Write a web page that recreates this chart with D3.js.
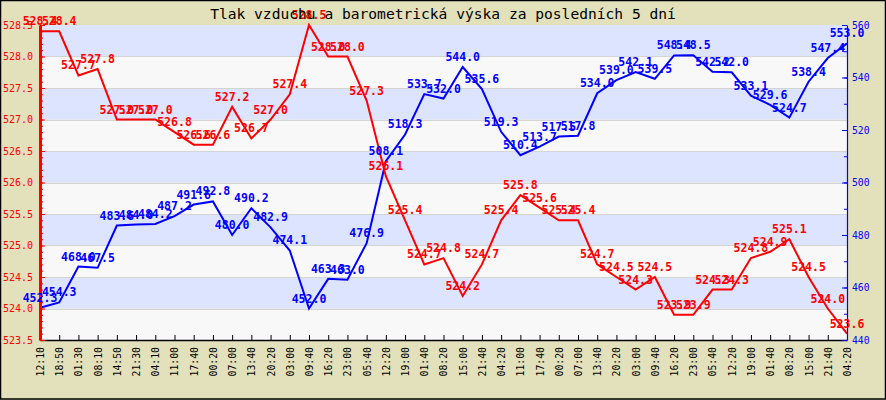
<!DOCTYPE html>
<html>
<head>
<meta charset="utf-8">
<script src="https://cdn.jsdelivr.net/npm/d3@7"></script>
<style>
html,body{margin:0;padding:0;background:#fff;}
svg{display:block;}
</style>
</head>
<body>
<svg id="chart" width="886" height="400"></svg>
<script>
const titleText = "Tlak vzduchu a barometrická výska za posledních 5 dní";
const xLabels = ["12:10","18:50","01:30","08:10","14:50","21:30","04:10","11:00","17:40","00:20","07:00","13:40","20:20","03:00","09:40","16:20","23:00","05:40","12:20","19:00","01:40","08:20","15:00","21:40","04:20","11:00","17:40","00:20","07:00","13:40","20:20","03:00","09:40","16:20","23:00","05:40","12:20","19:00","01:40","08:20","15:00","21:40","04:20"];
const pressure = [528.4,528.4,527.7,527.8,527.0,527.0,527.0,526.8,526.6,526.6,527.2,526.7,527.0,527.4,528.5,528.0,528.0,527.3,526.1,525.4,524.7,524.8,524.2,524.7,525.4,525.8,525.6,525.4,525.4,524.7,524.5,524.3,524.5,523.9,523.9,524.3,524.3,524.8,524.9,525.1,524.5,524.0,523.6];
const altitude = [452.3,454.3,468.0,467.5,483.6,484.0,484.2,487.2,491.6,492.8,480.0,490.2,482.9,474.1,452.0,463.3,463.0,476.9,508.1,518.3,533.7,532.0,544.0,535.6,519.3,510.4,513.7,517.5,517.8,534.0,539.0,542.1,539.5,548.4,548.5,542.2,542.0,533.1,529.6,524.7,538.4,547.4,553.0];
const leftTicks = [523.5,524.0,524.5,525.0,525.5,526.0,526.5,527.0,527.5,528.0,528.5];
const rightTicks = [440,460,480,500,520,540,560];

const W = 886, H = 400;
const L = 40, R = 847, T = 25, B = 340;
const mono = "'DejaVu Sans Mono', 'Liberation Mono', monospace";
const beige = "#e3e0bc";

const svg = d3.select("#chart");
const x = d3.scalePoint().domain(d3.range(xLabels.length)).range([L, R]);
const yL = d3.scaleLinear().domain([523.5, 528.5]).range([B, T]);
const yR = d3.scaleLinear().domain([440, 560]).range([B, T]);

// background
svg.append("rect").attr("x",0).attr("y",0).attr("width",W).attr("height",H).attr("fill",beige);

// bands
const bands = leftTicks.slice(0, -1);
svg.append("g").selectAll("rect").data(bands).join("rect")
  .attr("x", L).attr("width", R - L)
  .attr("y", d => yL(d + 0.5)).attr("height", d => yL(d) - yL(d + 0.5))
  .attr("fill", (d, i) => i % 2 === 1 ? "#dde4ff" : "#f8f8f8");

// grid
svg.append("g").selectAll("line").data(leftTicks.slice(1, -1)).join("line")
  .attr("x1", L).attr("x2", R)
  .attr("y1", d => Math.round(yL(d)) + 0.5).attr("y2", d => Math.round(yL(d)) + 0.5)
  .attr("stroke", "#d4d4d4").attr("stroke-width", 1);

// lines
const lineL = d3.line().x((d, i) => x(i)).y(d => yL(d));
const lineR = d3.line().x((d, i) => x(i)).y(d => yR(d));
svg.append("path").datum(altitude).attr("d", lineR)
  .attr("fill","none").attr("stroke","#0000ff").attr("stroke-width",2);
svg.append("path").datum(pressure).attr("d", lineL)
  .attr("fill","none").attr("stroke","#ff0000").attr("stroke-width",2);

// bottom axis
const gx = svg.append("g").attr("transform", `translate(0,${B})`)
  .call(d3.axisBottom(x).tickSize(-5).tickSizeOuter(0).tickFormat(i => xLabels[i]));
gx.select(".domain").attr("stroke","#000").attr("stroke-width",1.5);
gx.selectAll(".tick line").attr("stroke","#000");
gx.selectAll("text")
  .attr("transform","rotate(-90)")
  .attr("x",-7).attr("y",0).attr("dy","0.35em")
  .attr("text-anchor","end")
  .attr("font-family", mono).attr("font-size","9.8px").attr("fill","#000");
gx.attr("font-family", mono);

// left axis minor
const gLm = svg.append("g").attr("transform", `translate(${L},0)`)
  .call(d3.axisLeft(yL).ticks(50).tickSize(-3).tickSizeOuter(0).tickFormat(""));
gLm.select(".domain").remove();
gLm.selectAll(".tick line").attr("stroke","#ff0000");
// left axis major
const gL = svg.append("g").attr("transform", `translate(${L},0)`)
  .call(d3.axisLeft(yL).tickValues(leftTicks).tickSize(-5).tickSizeOuter(0).tickPadding(7).tickFormat(d3.format(".1f")));
gL.select(".domain").attr("stroke","#ff0000").attr("stroke-width",3);
gL.selectAll(".tick line").attr("stroke","#ff0000");
gL.selectAll("text").attr("fill","#ff0000").attr("font-family", mono).attr("font-size","10px");

// right axis minor
const gRm = svg.append("g").attr("transform", `translate(${R},0)`)
  .call(d3.axisRight(yR).ticks(12).tickSize(-3).tickSizeOuter(0).tickFormat(""));
gRm.select(".domain").remove();
gRm.selectAll(".tick line").attr("stroke","#0000ff");
const gR = svg.append("g").attr("transform", `translate(${R},0)`)
  .call(d3.axisRight(yR).tickValues(rightTicks).tickSize(-5).tickSizeOuter(0).tickPadding(5).tickFormat(d3.format("d")));
gR.select(".domain").attr("stroke","#0000ff").attr("stroke-width",1.2);
gR.selectAll(".tick line").attr("stroke","#0000ff");
gR.selectAll("text").attr("fill","#0000ff").attr("font-family", mono).attr("font-size","9.7px");

// data labels
const fmt = d3.format(".1f");
svg.append("g").selectAll("text").data(altitude).join("text")
  .attr("x", (d, i) => x(i)).attr("y", d => yR(d) - 6)
  .attr("text-anchor","middle").attr("font-family", mono).attr("font-weight","bold")
  .attr("font-size","11.5px").attr("fill","#0000ff").text(d => fmt(d));
svg.append("g").selectAll("text").data(pressure).join("text")
  .attr("x", (d, i) => x(i)).attr("y", d => yL(d) - 6)
  .attr("text-anchor","middle").attr("font-family", mono).attr("font-weight","bold")
  .attr("font-size","11.5px").attr("fill","#ff0000").text(d => fmt(d));

// title
svg.append("text").attr("x", 443).attr("y", 19).attr("text-anchor","middle")
  .attr("font-family", mono).attr("font-size","14.6px").attr("fill","#000").text(titleText);

// border
svg.append("rect").attr("x",0.5).attr("y",0.5).attr("width",W-1).attr("height",H-1.5)
  .attr("fill","none").attr("stroke","#000").attr("stroke-width",1.5);
</script>
</body>
</html>
